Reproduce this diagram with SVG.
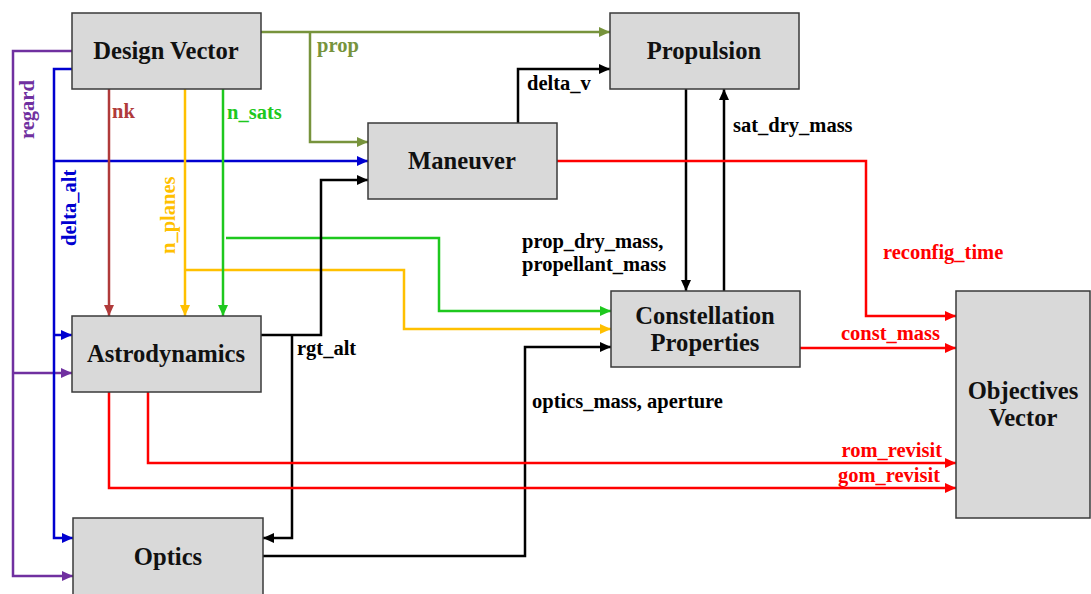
<svg xmlns="http://www.w3.org/2000/svg" width="1091" height="594" viewBox="0 0 1091 594">
<style>
.box{fill:#d9d9d9;stroke:#3a3a3a;stroke-width:1.5}
.nt{font-family:"Liberation Serif",serif;font-weight:bold;font-size:24.6px;fill:#111;text-anchor:middle}
.lb{font-family:"Liberation Serif",serif;font-weight:bold;font-size:20.5px}
.c{fill:none;stroke-width:2.5;stroke-linejoin:miter}
</style>
<defs>
<marker id="ak" markerUnits="userSpaceOnUse" markerWidth="12" markerHeight="10" refX="11" refY="5" orient="auto"><path d="M0,0 L11,5 L0,10 z" fill="#000"/></marker>
<marker id="ar" markerUnits="userSpaceOnUse" markerWidth="12" markerHeight="10" refX="11" refY="5" orient="auto"><path d="M0,0 L11,5 L0,10 z" fill="#ff0000"/></marker>
<marker id="ab" markerUnits="userSpaceOnUse" markerWidth="12" markerHeight="10" refX="11" refY="5" orient="auto"><path d="M0,0 L11,5 L0,10 z" fill="#0000d0"/></marker>
<marker id="ap" markerUnits="userSpaceOnUse" markerWidth="12" markerHeight="10" refX="11" refY="5" orient="auto"><path d="M0,0 L11,5 L0,10 z" fill="#7030a0"/></marker>
<marker id="ao" markerUnits="userSpaceOnUse" markerWidth="12" markerHeight="10" refX="11" refY="5" orient="auto"><path d="M0,0 L11,5 L0,10 z" fill="#77933c"/></marker>
<marker id="ay" markerUnits="userSpaceOnUse" markerWidth="12" markerHeight="10" refX="11" refY="5" orient="auto"><path d="M0,0 L11,5 L0,10 z" fill="#ffc000"/></marker>
<marker id="ag" markerUnits="userSpaceOnUse" markerWidth="12" markerHeight="10" refX="11" refY="5" orient="auto"><path d="M0,0 L11,5 L0,10 z" fill="#1ec81e"/></marker>
<marker id="an" markerUnits="userSpaceOnUse" markerWidth="12" markerHeight="10" refX="11" refY="5" orient="auto"><path d="M0,0 L11,5 L0,10 z" fill="#b03a3a"/></marker>
</defs>

<g id="connectors">
<path class="c" stroke="#77933c" d="M261,32 H610" marker-end="url(#ao)"/>
<path class="c" stroke="#77933c" d="M310,32 V142 H368" marker-end="url(#ao)"/>
<path class="c" stroke="#7030a0" d="M72,51 H13 V576 H73" marker-end="url(#ap)"/>
<path class="c" stroke="#7030a0" d="M13,373 H72" marker-end="url(#ap)"/>
<path class="c" stroke="#0000d0" d="M72,69 H54 V538 H73" marker-end="url(#ab)"/>
<path class="c" stroke="#0000d0" d="M54,161 H368" marker-end="url(#ab)"/>
<path class="c" stroke="#0000d0" d="M54,335 H72" marker-end="url(#ab)"/>
<path class="c" stroke="#b03a3a" d="M109,89 V316" marker-end="url(#an)"/>
<path class="c" stroke="#ffc000" d="M185,89 V316" marker-end="url(#ay)"/>
<path class="c" stroke="#ffc000" d="M185,270 H404 V329 H611" marker-end="url(#ay)"/>
<path class="c" stroke="#1ec81e" d="M223,89 V316" marker-end="url(#ag)"/>
<path class="c" stroke="#1ec81e" d="M226,238 H439 V311 H611" marker-end="url(#ag)"/>
<path class="c" stroke="#000" d="M261,335 H321 V180 H368" marker-end="url(#ak)"/>
<path class="c" stroke="#000" d="M292,335 V538 H263" marker-end="url(#ak)"/>
<path class="c" stroke="#000" d="M518,123 V69 H610" marker-end="url(#ak)"/>
<path class="c" stroke="#000" d="M686,89 V291" marker-end="url(#ak)"/>
<path class="c" stroke="#000" d="M724,291 V89" marker-end="url(#ak)"/>
<path class="c" stroke="#000" d="M263,556 H525 V347 H611" marker-end="url(#ak)"/>
<path class="c" stroke="#ff0000" d="M557,161 H866 V316 H956" marker-end="url(#ar)"/>
<path class="c" stroke="#ff0000" d="M800,348 H956" marker-end="url(#ar)"/>
<path class="c" stroke="#ff0000" d="M148,392 V463 H956" marker-end="url(#ar)"/>
<path class="c" stroke="#ff0000" d="M109,392 V488 H956" marker-end="url(#ar)"/>
</g>

<g id="labels">
<text class="lb" x="317" y="52" fill="#77933c">prop</text>
<text class="lb" fill="#7030a0" transform="translate(34,139) rotate(-90)">regard</text>
<text class="lb" fill="#0000d0" transform="translate(76,246) rotate(-90)">delta_alt</text>
<text class="lb" fill="#ffc000" transform="translate(175,254) rotate(-90)">n_planes</text>
<text class="lb" x="112" y="118" fill="#b03a3a">nk</text>
<text class="lb" x="227" y="119" fill="#1ec81e">n_sats</text>
<text class="lb" x="297" y="355" fill="#000">rgt_alt</text>
<text class="lb" x="527" y="90" fill="#000">delta_v</text>
<text class="lb" x="733" y="132" fill="#000">sat_dry_mass</text>
<text class="lb" x="522" y="248" fill="#000">prop_dry_mass,</text>
<text class="lb" x="522" y="271" fill="#000">propellant_mass</text>
<text class="lb" x="532" y="408" fill="#000">optics_mass, aperture</text>
<text class="lb" x="883" y="259" fill="#ff0000">reconfig_time</text>
<text class="lb" x="940" y="340" fill="#ff0000" text-anchor="end">const_mass</text>
<text class="lb" x="942" y="457" fill="#ff0000" text-anchor="end">rom_revisit</text>
<text class="lb" x="940" y="482" fill="#ff0000" text-anchor="end">gom_revisit</text>
</g>

<g id="design-vector"><rect class="box" x="72" y="13" width="189" height="76"/><text class="nt" x="166" y="59">Design Vector</text></g>
<g id="propulsion"><rect class="box" x="610" y="13" width="189" height="76"/><text class="nt" x="704" y="59">Propulsion</text></g>
<g id="maneuver"><rect class="box" x="368" y="123" width="189" height="76"/><text class="nt" x="462" y="169">Maneuver</text></g>
<g id="astrodynamics"><rect class="box" x="72" y="316" width="189" height="76"/><text class="nt" x="166" y="362">Astrodynamics</text></g>
<g id="optics"><rect class="box" x="73" y="518" width="190" height="82"/><text class="nt" x="168" y="565">Optics</text></g>
<g id="constellation-properties"><rect class="box" x="611" y="291" width="189" height="76"/><text class="nt" x="705" y="324">Constellation</text><text class="nt" x="705" y="351">Properties</text></g>
<g id="objectives-vector"><rect class="box" x="956" y="291" width="134" height="227"/><text class="nt" x="1023" y="399">Objectives</text><text class="nt" x="1023" y="426">Vector</text></g>
</svg>
